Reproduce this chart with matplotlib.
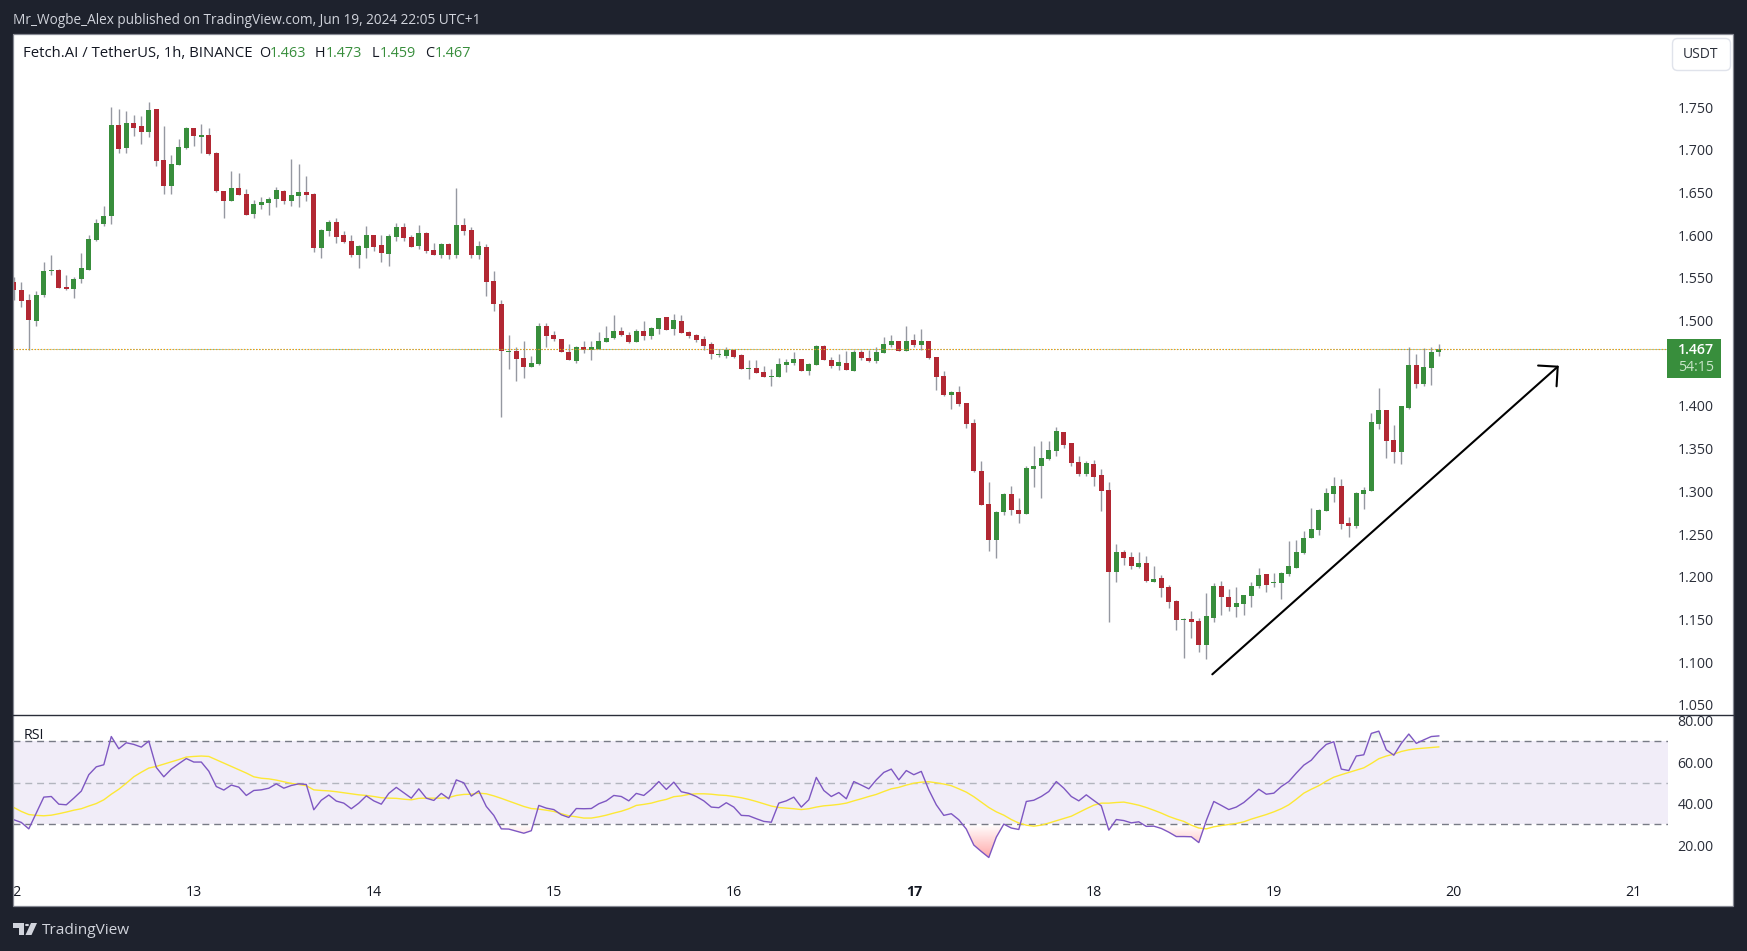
import numpy as np
import matplotlib
matplotlib.use('Agg')
import matplotlib.pyplot as plt
from matplotlib.lines import Line2D
from matplotlib.path import Path
from matplotlib.patches import Rectangle, FancyBboxPatch, Circle, Polygon

# hourly FET/USDT candles, first one is Jun 11 23:00
opens = [1.545,1.536,1.524,1.499,1.530,1.558,1.559,1.539,1.537,1.549,
         1.559,1.594,1.613,1.622,1.729,1.702,1.731,1.728,1.721,1.748,
         1.688,1.658,1.682,1.702,1.725,1.715,1.717,1.696,1.652,1.640,
         1.655,1.648,1.625,1.635,1.638,1.642,1.652,1.640,1.646,1.651,
         1.648,1.585,1.605,1.615,1.600,1.593,1.577,1.585,1.600,1.588,
         1.578,1.598,1.610,1.598,1.587,1.603,1.583,1.577,1.590,1.577,
         1.612,1.606,1.577,1.586,1.546,1.519,1.463,1.464,1.456,1.446,
         1.449,1.494,1.483,1.478,1.463,1.453,1.469,1.465,1.467,1.475,
         1.480,1.488,1.483,1.475,1.488,1.482,1.490,1.504,1.490,1.499,
         1.487,1.483,1.478,1.472,1.460,1.458,1.465,1.460,1.443,1.444,
         1.440,1.434,1.434,1.448,1.450,1.455,1.441,1.448,1.470,1.454,
         1.447,1.450,1.441,1.463,1.456,1.453,1.462,1.471,1.476,1.464,
         1.477,1.471,1.476,1.457,1.435,1.413,1.416,1.403,1.380,1.324,
         1.285,1.243,1.276,1.297,1.278,1.273,1.326,1.330,1.338,1.347,
         1.370,1.357,1.334,1.320,1.332,1.319,1.302,1.206,1.229,1.223,
         1.211,1.216,1.194,1.199,1.188,1.172,1.149,1.151,1.148,1.120,
         1.152,1.189,1.176,1.165,1.168,1.177,1.189,1.203,1.193,1.193,
         1.203,1.210,1.228,1.245,1.255,1.277,1.297,1.306,1.263,1.259,
         1.297,1.300,1.379,1.395,1.360,1.346,1.398,1.448,1.426,1.444,1.463]
highs = [1.551,1.545,1.531,1.535,1.568,1.577,1.560,1.553,1.551,1.579,
         1.600,1.619,1.634,1.750,1.748,1.745,1.741,1.740,1.756,1.748,
         1.728,1.694,1.713,1.727,1.725,1.730,1.725,1.697,1.652,1.675,
         1.673,1.654,1.641,1.645,1.645,1.656,1.653,1.689,1.683,1.669,
         1.649,1.607,1.618,1.620,1.605,1.600,1.588,1.611,1.600,1.600,
         1.601,1.614,1.614,1.600,1.612,1.604,1.591,1.591,1.591,1.655,
         1.620,1.610,1.593,1.590,1.558,1.524,1.483,1.469,1.476,1.458,
         1.497,1.497,1.488,1.478,1.472,1.470,1.476,1.476,1.487,1.494,
         1.506,1.492,1.487,1.490,1.499,1.492,1.503,1.504,1.508,1.506,
         1.488,1.484,1.482,1.475,1.467,1.469,1.465,1.461,1.454,1.454,
         1.447,1.443,1.456,1.455,1.463,1.455,1.450,1.471,1.471,1.457,
         1.461,1.464,1.465,1.465,1.465,1.469,1.481,1.483,1.476,1.494,
         1.484,1.490,1.476,1.457,1.441,1.417,1.423,1.403,1.385,1.336,
         1.311,1.277,1.298,1.306,1.292,1.330,1.353,1.359,1.359,1.375,
         1.370,1.357,1.341,1.336,1.337,1.326,1.311,1.238,1.231,1.229,
         1.229,1.224,1.213,1.202,1.190,1.173,1.152,1.160,1.152,1.181,
         1.193,1.195,1.186,1.188,1.179,1.194,1.210,1.203,1.204,1.206,
         1.242,1.243,1.254,1.280,1.279,1.304,1.317,1.314,1.270,1.299,
         1.305,1.392,1.421,1.395,1.378,1.400,1.469,1.461,1.468,1.469,1.473]
lows = [1.524,1.516,1.466,1.494,1.527,1.553,1.538,1.536,1.526,1.544,
        1.559,1.593,1.611,1.613,1.696,1.696,1.716,1.707,1.715,1.681,
        1.648,1.648,1.682,1.701,1.704,1.696,1.694,1.651,1.620,1.640,
        1.647,1.624,1.620,1.631,1.624,1.633,1.636,1.634,1.633,1.640,
        1.580,1.573,1.599,1.591,1.591,1.574,1.562,1.573,1.581,1.568,
        1.564,1.593,1.593,1.586,1.584,1.579,1.577,1.573,1.572,1.573,
        1.600,1.573,1.572,1.529,1.511,1.387,1.443,1.429,1.433,1.446,
        1.448,1.469,1.476,1.463,1.454,1.450,1.462,1.454,1.467,1.475,
        1.478,1.482,1.474,1.475,1.477,1.478,1.484,1.489,1.483,1.485,
        1.480,1.475,1.465,1.455,1.457,1.456,1.456,1.443,1.432,1.439,
        1.434,1.423,1.434,1.440,1.448,1.441,1.436,1.448,1.454,1.444,
        1.442,1.442,1.441,1.454,1.451,1.450,1.462,1.469,1.464,1.464,
        1.469,1.465,1.455,1.419,1.412,1.396,1.400,1.374,1.323,1.284,
        1.230,1.222,1.272,1.272,1.263,1.273,1.305,1.292,1.337,1.341,
        1.351,1.330,1.318,1.318,1.306,1.277,1.147,1.194,1.214,1.209,
        1.210,1.194,1.194,1.176,1.163,1.138,1.105,1.128,1.112,1.104,
        1.147,1.155,1.160,1.153,1.155,1.165,1.187,1.182,1.188,1.174,
        1.201,1.210,1.227,1.245,1.249,1.277,1.287,1.256,1.247,1.257,
        1.279,1.300,1.373,1.339,1.333,1.332,1.396,1.421,1.423,1.425,1.459]
closes = [1.536,1.523,1.501,1.530,1.558,1.559,1.538,1.537,1.549,1.562,
          1.595,1.614,1.622,1.729,1.701,1.731,1.725,1.721,1.747,1.687,
          1.658,1.683,1.703,1.725,1.716,1.717,1.695,1.652,1.640,1.655,
          1.647,1.624,1.636,1.639,1.642,1.653,1.640,1.647,1.651,1.647,
          1.585,1.606,1.615,1.598,1.592,1.577,1.587,1.600,1.586,1.579,
          1.599,1.610,1.597,1.586,1.603,1.581,1.577,1.590,1.577,1.612,
          1.605,1.577,1.587,1.545,1.519,1.464,1.464,1.455,1.446,1.450,
          1.494,1.482,1.478,1.463,1.454,1.469,1.465,1.469,1.476,1.480,
          1.488,1.483,1.475,1.488,1.482,1.491,1.503,1.489,1.501,1.485,
          1.482,1.477,1.470,1.461,1.461,1.465,1.457,1.443,1.444,1.439,
          1.434,1.435,1.449,1.451,1.455,1.441,1.449,1.470,1.454,1.447,
          1.451,1.442,1.463,1.456,1.453,1.463,1.472,1.476,1.464,1.476,
          1.471,1.476,1.456,1.434,1.413,1.416,1.402,1.379,1.324,1.284,
          1.243,1.276,1.297,1.278,1.273,1.327,1.330,1.339,1.348,1.371,
          1.354,1.333,1.320,1.333,1.317,1.300,1.206,1.229,1.222,1.213,
          1.216,1.195,1.197,1.187,1.170,1.149,1.150,1.147,1.120,1.154,
          1.189,1.176,1.165,1.169,1.179,1.189,1.202,1.190,1.194,1.204,
          1.213,1.229,1.245,1.256,1.278,1.298,1.306,1.262,1.259,1.298,
          1.302,1.381,1.395,1.359,1.346,1.400,1.448,1.426,1.446,1.463,1.467]

rsi = [32.2,30.9,27.8,35.4,43.1,43.4,39.7,39.4,42.6,46.0,
       53.9,57.7,58.7,72.3,66.4,69.3,68.5,67.2,70.1,57.4,
       52.9,56.6,59.2,61.7,60.0,60.0,55.6,48.2,46.5,48.9,
       47.9,43.9,46.3,46.6,47.4,49.5,47.4,48.7,49.5,49.2,
       37.0,41.6,44.1,41.2,40.2,37.5,40.2,43.7,41.3,39.7,
       44.9,47.8,45.2,42.6,47.1,42.6,41.5,44.9,42.3,51.4,
       50.0,43.6,46.1,38.6,34.3,27.8,27.7,26.7,25.7,26.9,
       39.1,37.8,37.1,34.6,33.3,37.6,37.5,37.6,39.9,41.3,
       43.9,43.4,41.3,44.9,43.9,46.9,50.6,46.8,50.3,45.7,
       44.9,43.4,41.3,38.3,38.0,40.4,38.3,34.3,34.1,32.7,
       31.4,31.0,40.2,41.3,43.1,38.3,41.8,52.6,46.3,43.4,
       45.3,42.3,50.6,48.9,47.1,51.4,55.0,56.6,51.4,55.9,
       53.9,55.5,46.6,39.4,34.3,35.1,32.2,27.7,20.0,16.9,
       14.0,23.8,30.1,28.2,27.5,41.0,41.6,43.4,45.8,50.6,
       47.4,43.4,41.3,44.2,41.5,38.9,27.2,32.3,31.8,30.7,
       31.2,29.0,29.1,28.0,26.2,24.1,24.1,24.0,21.2,31.8,
       41.0,39.1,37.1,38.3,40.5,43.6,46.9,44.5,45.0,48.2,
       50.6,54.7,58.5,60.9,65.1,68.5,69.8,56.6,55.9,62.9,
       63.5,73.8,74.9,65.9,63.3,69.0,73.5,69.0,70.7,72.3,72.6]
rsi_ma = [38.1,36.2,34.7,34.3,34.1,34.4,35.1,35.9,36.8,37.5,
          38.8,40.0,41.8,44.5,46.9,49.8,52.9,55.1,57.1,57.9,
          59.0,60.1,61.2,62.4,62.7,62.9,62.7,61.1,59.5,57.9,
          56.3,54.7,52.9,52.2,51.9,51.3,50.5,49.7,49.2,48.6,
          46.6,46.3,46.1,45.7,45.2,44.7,44.2,43.9,43.4,42.8,
          42.6,42.5,42.1,41.8,42.5,42.6,42.6,42.6,42.9,43.9,
          44.4,44.5,45.0,44.7,43.7,42.5,41.2,39.9,38.6,37.6,
          37.3,36.8,36.2,35.1,34.1,33.6,33.0,33.0,33.6,
          34.4,35.4,36.3,37.5,39.1,39.6,40.2,41.2,42.0,43.3,
          43.7,44.4,44.7,44.7,44.5,44.1,43.9,43.4,42.8,42.0,
          41.0,39.9,38.8,38.1,37.8,37.5,37.1,37.5,38.3,38.9,
          39.2,39.6,40.2,41.3,42.3,43.4,44.4,45.8,47.1,47.8,
          48.9,49.8,50.3,50.5,50.0,49.4,48.6,47.1,45.5,43.3,
          40.7,38.1,36.0,34.4,32.3,30.6,29.6,29.1,29.6,30.6,
          31.7,32.8,33.9,35.7,37.5,39.2,40.2,40.2,40.5,40.7,
          40.0,39.2,38.1,36.8,35.4,33.8,32.5,31.4,29.6,28.2,
          27.8,28.8,29.4,29.9,30.4,31.2,32.5,33.6,34.7,36.0,
          37.5,39.4,42.1,45.0,46.9,48.6,50.8,52.7,53.9,55.0,
          56.1,57.2,59.3,61.6,62.9,63.8,65.1,65.9,66.4,66.7,67.0,67.3]

price_ticks = [1.05,1.10,1.15,1.20,1.25,1.30,1.35,1.40,1.50,1.55,1.60,1.65,1.70,1.75]
rsi_ticks = [20,40,60,80]
day_labels = ['12','13','14','15','16','17','18','19','20','21']
trend_start = (158.8, 1.0857)
trend_end = (205.0, 1.4471)

W, H = 1747, 951
DARK = '#1e222d'
UP = '#388e3c'
DOWN = '#b22833'
WICK = '#9598a1'
FONT = 'Open Sans'

plt.rcParams['font.family'] = [FONT, 'DejaVu Sans']


def fx(x):
    return x / W


def fy(y):
    return 1 - y / H


def add_pane(x0, y0, x1, y1):
    ax = fig.add_axes([fx(x0), fy(y1), fx(x1) - fx(x0), fy(y0) - fy(y1)])
    for s in ax.spines.values():
        s.set_visible(False)
    ax.set_facecolor('none')
    return ax


def gradient_fill(ax, x, y, level, edge, rgb, alpha):
    # fill between the line and a level, fading out towards the level
    below = edge < level
    poly = ax.fill_between(x, y, level, where=(y < level) if below else (y > level),
                           interpolate=True, color='none', lw=0)
    grad = np.zeros((64, 1, 4))
    grad[:, 0, :3] = rgb
    grad[:, 0, 3] = np.linspace(alpha, 0, 64) if below else np.linspace(0, alpha, 64)
    img = ax.imshow(grad, extent=(x[0], x[-1], min(edge, level), max(edge, level)),
                    origin='lower', aspect='auto', zorder=2)
    img.set_clip_path(Path.make_compound_path(*poly.get_paths()), transform=ax.transData)


fig = plt.figure(figsize=(W / 100, H / 100), dpi=100, facecolor=DARK)
fig.add_artist(Rectangle((fx(13), fy(906)), fx(1733) - fx(13), fy(34) - fy(906),
                         transform=fig.transFigure, fc='white', ec='none', zorder=-1))

# price pane
ax = add_pane(13, 34, 1668, 715)
idx = np.arange(len(closes)) - 1
o, h, l, c = map(np.array, (opens, highs, lows, closes))
colors = np.where(c >= o, UP, DOWN)
ax.vlines(idx, l, h, colors=WICK, lw=1.0, zorder=2)
ax.bar(idx, np.abs(c - o), bottom=np.minimum(o, c), width=0.68, color=colors, lw=0, zorder=3)
ax.set_xlim((13 - 21.3) / 7.5, (1668 - 21.3) / 7.5)
ax.set_ylim(1.467 - (715 - 348.7) / 854, 1.467 + (348.7 - 34) / 854)

# last price lines, the green one sits a pixel under the orange one
ax.axhline(closes[-1] - 0.0009, color='#26a69a', lw=0.72, ls=(0, (1, 2)), zorder=4)
ax.axhline(closes[-1], color='#ff9800', lw=0.85, ls=(0, (1, 1.6)), zorder=4)

ax.annotate('', xy=trend_end, xytext=trend_start,
            arrowprops=dict(arrowstyle='->,head_length=10,head_width=10', color='black',
                            lw=1.5, shrinkA=0, shrinkB=0, mutation_scale=1), zorder=5)

ax.set_xticks([])
ax.yaxis.tick_right()
ax.set_yticks(price_ticks)
ax.set_yticklabels(['%.3f' % t for t in price_ticks])
ax.tick_params(axis='y', length=0, pad=7, labelsize=10.2, labelcolor='#2a2e39')

# RSI pane
rax = add_pane(13, 715, 1668, 875)
rsi_x = np.arange(len(rsi)) - 1
rsi_y = np.array(rsi)
rax.set_xlim(ax.get_xlim())
rax.set_ylim(70 - (875 - 741.3) / 2.075, 70 + (741.3 - 715) / 2.075)
xlim, ylim = rax.get_xlim(), rax.get_ylim()

rax.axhspan(30, 70, color='#7e57c2', alpha=0.1, lw=0, zorder=1)
for level, col in ((70, '#787b86'), (30, '#787b86'), (50, '#b2b5be')):
    rax.axhline(level, color=col, lw=1.0, ls=(0, (5, 3.5)), zorder=2)
gradient_fill(rax, rsi_x, rsi_y, 30, 14, (1.0, 0.32, 0.32), 0.5)
gradient_fill(rax, rsi_x, rsi_y, 70, 80, (0.3, 0.69, 0.31), 0.3)
rax.plot(rsi_x, rsi_ma, color='#fde835', lw=1.0, zorder=3)
rax.plot(rsi_x, rsi, color='#7e57c2', lw=1.0, zorder=4)
rax.set_xlim(xlim)
rax.set_ylim(ylim)

rax.yaxis.tick_right()
rax.set_yticks(rsi_ticks)
rax.set_yticklabels(['%.2f' % t for t in rsi_ticks])
rax.tick_params(axis='y', length=0, pad=7, labelsize=10.2, labelcolor='#2a2e39')

# one tick per day, first candle of each day
rax.set_xticks(np.arange(len(day_labels)) * 24 - 1)
rax.set_xticklabels(day_labels)
rax.tick_params(axis='x', length=0, pad=7, labelsize=10.2, labelcolor='#131722')
rax.get_xticklabels()[day_labels.index('17')].set_fontweight('bold')

# frame around the chart, dark strips hide what sticks out on the left
fig.add_artist(Rectangle((0, 0), fx(13), 1, transform=fig.transFigure, fc=DARK, ec='none', zorder=1))
fig.add_artist(Rectangle((fx(13), fy(906)), fx(1733) - fx(13), fy(34) - fy(906),
                         transform=fig.transFigure, fc='none', ec='#868993', lw=0.9, zorder=2))
fig.add_artist(Line2D([fx(13), fx(1733)], [fy(715), fy(715)], color='#2a2e39', lw=1.0, zorder=2))

# last price tag
fig.add_artist(Rectangle((fx(1667), fy(378)), fx(1721) - fx(1667), fy(339) - fy(378),
                         transform=fig.transFigure, fc=UP, ec='none', zorder=3))
fig.text(fx(1695.7), fy(350), '%.3f' % closes[-1], color='white', fontsize=10.2, fontweight='semibold',
         ha='center', va='center', zorder=4)
fig.text(fx(1695.7), fy(367.7), '54:15', color='#c8e6c9', fontsize=10.2, ha='center', va='center', zorder=4)

# currency button
fig.add_artist(FancyBboxPatch((fx(1672.5), fy(70.5)), fx(1730.5) - fx(1672.5), fy(38.5) - fy(70.5),
                              boxstyle='round,pad=0,rounding_size=0.003', transform=fig.transFigure,
                              fc='white', ec='#e0e3eb', lw=1.0, zorder=3, mutation_aspect=W / H))
fig.text(fx(1700.7), fy(54.7), 'USDT', color='#2a2e39', fontsize=10, ha='center', va='center', zorder=4)

# header and legend texts
fig.text(fx(13), fy(20), 'Mr_Wogbe_Alex published on TradingView.com, Jun 19, 2024 22:05 UTC+1',
         color='#d1d4dc', fontsize=9.8, ha='left', va='center')
fig.text(fx(23), fy(53.7), 'Fetch.AI / TetherUS, 1h, BINANCE', color='#131722', fontsize=10.7,
         ha='left', va='center', zorder=4)
ohlc = (('O', opens[-1], 259, 270), ('H', highs[-1], 315, 325.7),
        ('L', lows[-1], 371.7, 380), ('C', closes[-1], 425, 435))
for name, val, x_name, x_val in ohlc:
    fig.text(fx(x_name), fy(53.7), name, color='#131722', fontsize=10.4, ha='left', va='center', zorder=4)
    fig.text(fx(x_val), fy(53.7), '%.3f' % val, color=UP, fontsize=10.4, ha='left', va='center', zorder=4)
fig.text(fx(23.7), fy(735.7), 'RSI', color='#131722', fontsize=10.2, ha='left', va='center', zorder=4)

# footer logo
LOGO = '#d1d4dc'
fig.add_artist(Polygon([(fx(13), fy(923)), (fx(23.5), fy(923)), (fx(23.5), fy(935)), (fx(18.5), fy(935)),
                        (fx(18.5), fy(928)), (fx(13), fy(928))], transform=fig.transFigure, fc=LOGO, ec='none'))
fig.add_artist(Polygon([(fx(31), fy(923)), (fx(37), fy(923)), (fx(31.5), fy(935)), (fx(25.5), fy(935))],
                       transform=fig.transFigure, fc=LOGO, ec='none'))
fig.add_artist(Circle((fx(27), fy(925)), 2.0 / W, transform=fig.transFigure, fc=LOGO, ec='none'))
fig.text(fx(42), fy(930), 'TradingView', color=LOGO, fontsize=11.1, ha='left', va='center')

fig.savefig('out.png', dpi=100, facecolor=DARK)
